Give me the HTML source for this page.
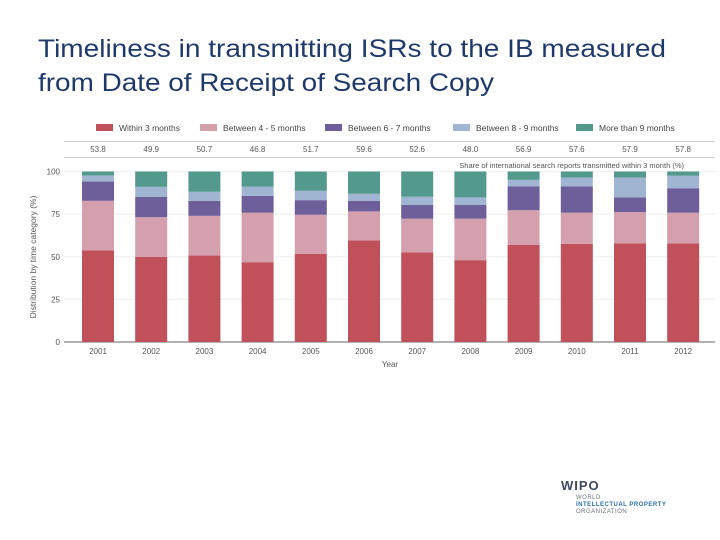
<!DOCTYPE html>
<html><head><meta charset="utf-8"><style>
html,body{margin:0;padding:0;background:#fff;width:720px;height:540px;overflow:hidden}
svg{display:block;font-family:"Liberation Sans",sans-serif}
</style></head><body>
<svg id="chart" width="720" height="540" viewBox="0 0 720 540">
<text x="38" y="57" font-size="25" fill="#1f3a68" textLength="628" lengthAdjust="spacingAndGlyphs">Timeliness in transmitting ISRs to the IB measured</text>
<text x="38" y="91" font-size="25" fill="#1f3a68" textLength="456" lengthAdjust="spacingAndGlyphs">from Date of Receipt of Search Copy</text>
<g id="legend"></g>
<line x1="64" y1="141.5" x2="715" y2="141.5" stroke="#ccc"/>
<line x1="64" y1="157.5" x2="715" y2="157.5" stroke="#ccc"/>
<text x="684" y="168" font-size="7.5" fill="#555" text-anchor="end">Share of international search reports transmitted within 3 month (%)</text>
<g id="grid"></g><g id="bars"></g><g id="labels"></g>
<text transform="translate(36,257) rotate(-90)" font-size="8.5" fill="#555" text-anchor="middle">Distribution by time category (%)</text>
<text x="390" y="367" font-size="8" fill="#555" text-anchor="middle">Year</text>
<g>
<text x="561" y="490" font-size="13" font-weight="bold" fill="#3d4a5c" letter-spacing="1">WIPO</text>
<text x="576" y="499" font-size="6" fill="#6a7380" letter-spacing="0.5">WORLD</text>
<text x="576" y="506" font-size="6" font-weight="bold" fill="#2c6fa8" letter-spacing="0.5">INTELLECTUAL PROPERTY</text>
<text x="576" y="513" font-size="6" fill="#6a7380" letter-spacing="0.5">ORGANIZATION</text>
</g>
</svg>
<script>
const years=["2001","2002","2003","2004","2005","2006","2007","2008","2009","2010","2011","2012"];
const within3=[53.8,49.9,50.7,46.8,51.7,59.6,52.6,48.0,56.9,57.6,57.9,57.8];
const m4to5=[29.0,23.3,23.3,29.0,22.9,17.0,19.7,24.3,20.4,18.2,18.3,18.0];
const m6to7=[11.3,12.0,8.8,9.9,8.6,6.2,8.2,8.2,13.9,15.4,8.6,14.4];
const m8to9=[3.6,5.8,5.3,5.5,5.5,4.1,4.7,4.3,3.9,5.3,11.7,7.3];
const over9=[2.3,9.0,11.9,8.8,11.3,13.1,14.8,15.2,4.9,3.5,3.5,2.5];
const shareLabels=["53.8","49.9","50.7","46.8","51.7","59.6","52.6","48.0","56.9","57.6","57.9","57.8"];
const yTicks=[0,25,50,75,100];
const seriesNames=["Within 3 months","Between 4 - 5 months","Between 6 - 7 months","Between 8 - 9 months","More than 9 months"];
const colors=["#c0505a","#d4a0ad","#6e5f9a","#9fb5d2","#53998e"];
const series=[within3,m4to5,m6to7,m8to9,over9];
const NS="http://www.w3.org/2000/svg";
const y0=342,y100=171.5,x0=82,step=53.2,bw=32;
const ys=v=>y0-(y0-y100)*v/100;
const xs=i=>x0+i*step;
function mk(t,a,p){const e=document.createElementNS(NS,t);for(const k in a)e.setAttribute(k,a[k]);p.appendChild(e);return e;}
const grid=document.getElementById('grid'),bars=document.getElementById('bars'),labels=document.getElementById('labels'),legend=document.getElementById('legend');
yTicks.forEach(t=>{
 const l=mk('line',{x1:64,x2:715,y1:ys(t),y2:ys(t),stroke:t===0?'#666':'#eee'},grid);
 
 
 const tx=mk('text',{x:60,y:ys(t)+3,'font-size':8,fill:'#555','text-anchor':'end'},grid);
 tx.textContent=t;
 
 
});
years.forEach((yr,i)=>{
 let c=0;
 series.forEach((s,k)=>{
  const v=s[i];
  const r=mk('rect',{x:xs(i),y:ys(c+v),width:bw,height:ys(c)-ys(c+v),fill:colors[k]},bars);
  
  
  c+=v;
 });
 const t=mk('text',{x:xs(i)+bw/2,y:354,'font-size':8,fill:'#555','text-anchor':'middle'},labels);
 t.textContent=yr;
 
 
 const s=mk('text',{x:xs(i)+bw/2,y:152,'font-size':8,fill:'#555','text-anchor':'middle'},labels);
 s.textContent=shareLabels[i];
 
 
});
const lx=[96,200,325,453,576];
seriesNames.forEach((n,k)=>{
 const r=mk('rect',{x:lx[k],y:124,width:17,height:7,fill:colors[k]},legend);
 
 
 const t=mk('text',{x:lx[k]+23,y:131,'font-size':8.5,fill:'#444'},legend);
 t.textContent=n;
 
 
});
</script>
</body></html>
